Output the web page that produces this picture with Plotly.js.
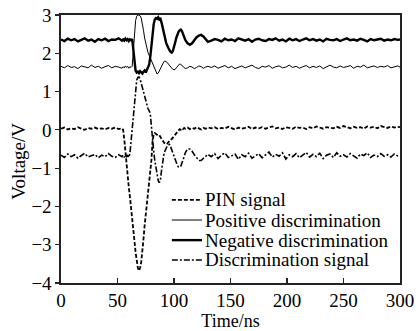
<!DOCTYPE html>
<html>
<head>
<meta charset="utf-8">
<script src="https://cdn.plot.ly/plotly-3.0.1.min.js"></script>
<style>html,body{margin:0;padding:0;background:#fff;}#chart{width:420px;height:331px;}</style>
</head>
<body>
<div id="chart"></div>
<script>
// Time axis samples (ns)
const timeNs = [0,3,6,9,12,15,18,21,24,27,30,33,36,39,42,45,48,51,54,
55,56,57,58,59,60,61,62,63,64,65,66,67,68,69,70,71,72,73,74,75,76,77,78,79,80,81,82,83,84,85,86,87,88,89,90,91,92,93,94,95,96,97,98,99,100,101,102,103,104,105,106,107,108,109,110,
112,114,116,118,120,122,124,126,128,130,
133,136,139,142,145,148,151,154,157,160,163,166,169,172,175,178,181,184,187,190,193,196,199,202,205,208,211,214,217,220,223,226,229,232,235,238,241,244,247,250,253,256,259,262,265,268,271,274,277,280,283,286,289,292,295,298,300];

const pinSignal = [0.03,0.06,0.01,0.04,0.02,0.07,0.03,0.0,0.05,0.03,0.06,0.02,0.04,0.01,0.05,0.03,0.06,0.02,0.04,
0.0,-0.25,-0.6,-0.95,-1.25,-1.5,-1.75,-2.0,-2.25,-2.6,
-2.9,-3.2,-3.45,-3.6,-3.68,-3.6,-3.45,-3.2,-2.85,-2.5,
-2.2,-1.95,-1.7,-1.45,-1.2,-0.8,-0.3,-0.12,-0.08,-0.1,
-0.12,-0.15,-0.14,-0.2,-0.25,-0.28,-0.33,-0.36,-0.38,-0.36,
-0.32,-0.3,-0.26,-0.24,-0.2,-0.16,-0.12,-0.08,-0.06,-0.02,
0.02,0.0,0.04,0.02,0.05,0.03,
0.06,0.02,0.05,0.03,0.07,0.04,0.01,0.05,0.03,0.06,
0.04,0.07,0.02,0.05,0.03,0.08,0.04,0.01,0.06,0.03,
0.05,0.08,0.02,0.06,0.04,0.07,0.03,0.05,0.09,0.04,
0.06,0.02,0.07,0.05,0.03,0.08,0.05,0.06,0.02,0.07,
0.04,0.09,0.05,0.03,0.07,0.06,0.04,0.08,0.05,0.1,
0.06,0.04,0.08,0.05,0.07,0.03,0.09,0.06,0.08,0.04,
0.1,0.07,0.05,0.09,0.06,0.08,0.07];

const positiveDiscrimination = [1.66,1.62,1.68,1.63,1.65,1.6,1.67,1.64,1.62,1.69,1.63,1.66,1.61,1.65,1.68,1.62,1.66,1.64,1.61,
1.65,1.62,1.67,1.63,1.66,1.61,1.65,1.63,1.66,2.1,
2.6,2.85,2.97,3.0,3.0,2.98,2.92,2.8,2.6,2.4,
2.25,2.12,2.02,1.95,1.88,1.8,1.72,1.64,1.56,1.5,
1.46,1.48,1.55,1.62,1.68,1.74,1.78,1.8,1.79,1.76,
1.72,1.68,1.63,1.6,1.58,1.57,1.58,1.62,1.66,1.7,
1.72,1.71,1.68,1.65,1.62,1.6,
1.62,1.66,1.64,1.6,1.63,1.67,1.65,1.61,1.64,1.66,
1.63,1.67,1.61,1.65,1.68,1.62,1.66,1.6,1.64,1.67,
1.62,1.65,1.69,1.63,1.6,1.66,1.64,1.68,1.61,1.65,
1.67,1.62,1.64,1.69,1.63,1.66,1.61,1.65,1.68,1.62,
1.66,1.63,1.67,1.6,1.65,1.69,1.64,1.62,1.67,1.63,
1.65,1.68,1.61,1.66,1.64,1.69,1.62,1.65,1.67,1.63,
1.66,1.64,1.68,1.62,1.65,1.67,1.64];

const negativeDiscrimination = [2.36,2.32,2.38,2.34,2.37,2.31,2.35,2.39,2.33,2.36,2.3,2.37,2.34,2.38,2.32,2.36,2.35,2.39,2.33,
2.36,2.33,2.38,2.34,2.37,2.32,2.36,2.34,2.37,2.1,
1.7,1.55,1.5,1.52,1.48,1.53,1.5,1.47,1.52,1.55,
1.5,1.56,1.6,1.7,1.9,2.2,2.5,2.75,2.88,2.92,
2.9,2.94,2.88,2.9,2.8,2.65,2.5,2.38,2.28,2.2,
2.12,2.08,2.04,2.02,2.06,2.15,2.28,2.4,2.5,2.56,
2.6,2.62,2.58,2.5,2.42,2.35,
2.26,2.22,2.26,2.34,2.42,2.46,2.48,2.44,2.36,2.3,
2.33,2.37,2.35,2.31,2.38,2.34,2.36,2.32,2.39,2.35,
2.33,2.37,2.3,2.36,2.38,2.34,2.32,2.37,2.35,2.39,
2.33,2.36,2.31,2.38,2.34,2.37,2.32,2.36,2.39,2.34,
2.37,2.33,2.36,2.31,2.38,2.35,2.34,2.37,2.32,2.36,
2.39,2.34,2.36,2.33,2.38,2.35,2.31,2.37,2.34,2.36,
2.38,2.33,2.36,2.34,2.37,2.35,2.36];

const discriminationSignal = [-0.66,-0.72,-0.63,-0.7,-0.65,-0.74,-0.67,-0.61,-0.71,-0.68,-0.64,-0.73,-0.66,-0.7,-0.62,-0.69,-0.72,-0.65,-0.7,
-0.66,-0.72,-0.64,-0.7,-0.67,-0.72,-0.62,-0.3,0.1,0.55,
0.85,1.15,1.3,1.37,1.38,1.33,1.22,1.1,0.95,0.82,
0.72,0.62,0.55,0.5,0.42,0.1,-0.3,-0.55,-0.8,-1.0,
-1.2,-1.32,-1.38,-1.3,-1.05,-0.8,-0.65,-0.55,-0.46,-0.42,
-0.4,-0.38,-0.44,-0.52,-0.62,-0.72,-0.8,-0.87,-0.93,-0.97,
-0.98,-0.95,-0.88,-0.8,-0.7,-0.6,
-0.5,-0.5,-0.56,-0.65,-0.73,-0.8,-0.8,-0.74,-0.68,-0.64,
-0.7,-0.62,-0.75,-0.66,-0.6,-0.72,-0.68,-0.63,-0.77,-0.65,
-0.7,-0.61,-0.74,-0.67,-0.62,-0.73,-0.66,-0.58,-0.71,-0.64,
-0.69,-0.6,-0.76,-0.65,-0.7,-0.62,-0.73,-0.67,-0.59,-0.71,
-0.64,-0.7,-0.61,-0.75,-0.66,-0.63,-0.72,-0.6,-0.69,-0.65,
-0.71,-0.62,-0.68,-0.74,-0.63,-0.67,-0.6,-0.72,-0.66,-0.7,
-0.62,-0.69,-0.65,-0.71,-0.63,-0.68,-0.66];

const seriesNames = ['PIN signal','Positive discrimination','Negative discrimination','Discrimination signal'];
const xTickValues = [0,50,100,150,200,250,300];
const yTickValues = [-4,-3,-2,-1,0,1,2,3];
const xTitle = 'Time/ns';
const yTitle = 'Voltage/V';

const FONT = 'Liberation Serif, Times New Roman, serif';
const seriesData = [pinSignal, positiveDiscrimination, negativeDiscrimination, discriminationSignal];
const lineStyles = [
  {color:'#000', width:1.8, dash:'4px,2px'},
  {color:'#000', width:1, dash:'solid'},
  {color:'#000', width:2.4, dash:'solid'},
  {color:'#000', width:1.6, dash:'6px,2px,2px,2px'}
];

const traces = seriesData.map((ys, i) => ({
  x: timeNs, y: ys, name: seriesNames[i], type:'scatter', mode:'lines',
  line: lineStyles[i], showlegend:false, hoverinfo:'skip'
}));

// Manual legend (sample lines + labels), positioned in paper coordinates
const legRowY = [0.310, 0.235, 0.160, 0.086];
const shapes = [];
const annotations = [];
seriesNames.forEach((nm, i) => {
  shapes.push({type:'line', xref:'paper', yref:'paper', x0:0.327, x1:0.416, y0:legRowY[i], y1:legRowY[i],
    line:{color:'#000', width:lineStyles[i].width, dash:lineStyles[i].dash}});
  annotations.push({xref:'paper', yref:'paper', x:0.42, y:legRowY[i], xanchor:'left', yanchor:'middle',
    text:nm, showarrow:false, font:{family:FONT, size:19, color:'#000'}});
});
// Y-axis title placed as rotated text (slightly below plot centre, as in the reference)
annotations.push({xref:'paper', yref:'paper', x:-0.128, y:0.455, xanchor:'center', yanchor:'middle',
  text:yTitle, textangle:-90, showarrow:false, font:{family:FONT, size:19, color:'#000'}});

const layout = {
  width:420, height:331,
  margin:{l:61, r:20, t:15, b:48},
  paper_bgcolor:'#fff', plot_bgcolor:'#fff',
  font:{family:FONT, size:19, color:'#000'},
  showlegend:false,
  xaxis:{range:[0,300], tickvals:xTickValues, ticks:'inside', ticklen:5, tickwidth:1.2, tickcolor:'#222',
    showline:true, linecolor:'#222', linewidth:1.6, mirror:true, showgrid:false, zeroline:false,
    tickfont:{family:FONT, size:19, color:'#000'},
    title:{text:xTitle, font:{family:FONT, size:18, color:'#000'}, standoff:0}},
  yaxis:{range:[-4,3], tickvals:yTickValues, ticks:'outside', ticklen:4, tickwidth:1.2, tickcolor:'#222',
    showline:true, linecolor:'#222', linewidth:1.6, mirror:true, showgrid:false, zeroline:false,
    tickfont:{family:FONT, size:19, color:'#000'}},
  shapes:shapes,
  annotations:annotations
};

Plotly.newPlot('chart', traces, layout, {displayModeBar:false, staticPlot:true});
</script>
</body>
</html>
